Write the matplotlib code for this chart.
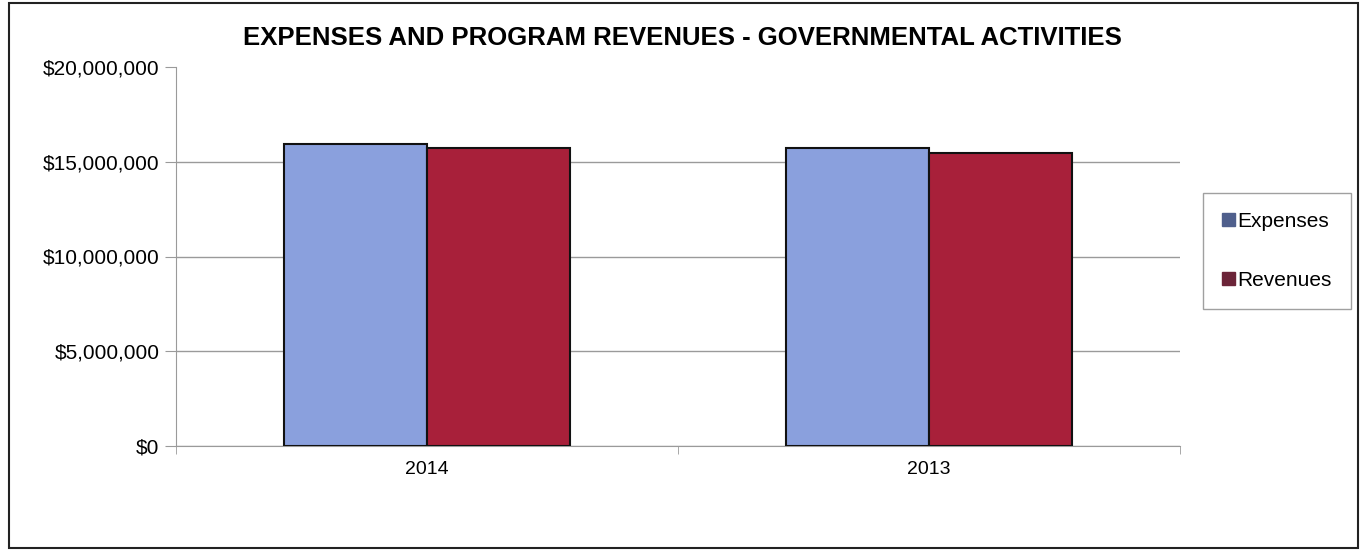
import matplotlib.pyplot as plt
import matplotlib.patches as mpatches
import numpy as np
from matplotlib.ticker import FuncFormatter, FixedLocator

plt.rcParams['font.family'] = ['Liberation Sans', 'DejaVu Sans']

years = ['2014', '2013']
expenses = [15950000, 15700000]
revenues = [15700000, 15450000]

fig = plt.figure(figsize=(13.64, 5.52), dpi=100)
ax = fig.add_axes([176 / 1364, 1 - 446 / 552, 1004 / 1364, 379 / 552])

x = np.arange(len(years))
w = 0.285
ax.bar(x - w / 2, expenses, w, color='#8aa0dd', edgecolor='#111111', linewidth=1.5, zorder=3)
ax.bar(x + w / 2, revenues, w, color='#a8203a', edgecolor='#111111', linewidth=1.5, zorder=3)

ax.set_xlim(-0.5, len(years) - 0.5)
ax.set_ylim(0, 20000000)
ax.set_yticks(np.arange(0, 20000001, 5000000))
ax.yaxis.set_major_formatter(FuncFormatter(lambda v, p: '${:,.0f}'.format(v)))
ax.grid(axis='y', color='#9a9a9a', linewidth=1, zorder=0)
ax.yaxis.get_major_ticks()[-1].gridline.set_visible(False)

# category labels in the middle, tick marks on the boundaries
ax.set_xticks(x)
ax.set_xticklabels(years)
ax.tick_params(axis='x', length=0, labelsize=14, pad=11)
ax.xaxis.set_minor_locator(FixedLocator([-0.5, 0.5, 1.5]))
ax.tick_params(axis='x', which='minor', length=6, color='#9a9a9a')
ax.tick_params(axis='y', length=8, color='#9a9a9a', labelsize=15, pad=4)

for s in ['top', 'right']:
    ax.spines[s].set_visible(False)
ax.spines['left'].set_color('#9a9a9a')
ax.spines['bottom'].set_color('#9a9a9a')

fig.text(0.5, 1 - 38 / 552, 'EXPENSES AND PROGRAM REVENUES - GOVERNMENTAL ACTIVITIES',
         ha='center', va='center', fontsize=18.5, fontweight='bold')

handles = [mpatches.Patch(color='#4f5f8c', label='Expenses'),
           mpatches.Patch(color='#6b2438', label='Revenues')]
leg = fig.legend(handles=handles, loc='center', bbox_to_anchor=(1277 / 1364, 1 - 251 / 552),
                 fontsize=15, frameon=True, fancybox=False, edgecolor='#888888',
                 handlelength=0.6, handleheight=0.6, handletextpad=0.15,
                 labelspacing=1.9, borderpad=0.9, borderaxespad=0)

# outer chart border
fig.patches.append(mpatches.Rectangle((9 / 1364, 4 / 552), 1349 / 1364, 545 / 552,
                                      transform=fig.transFigure, fill=False,
                                      edgecolor='#222222', linewidth=1.5))

fig.savefig('out.png', dpi=100)
